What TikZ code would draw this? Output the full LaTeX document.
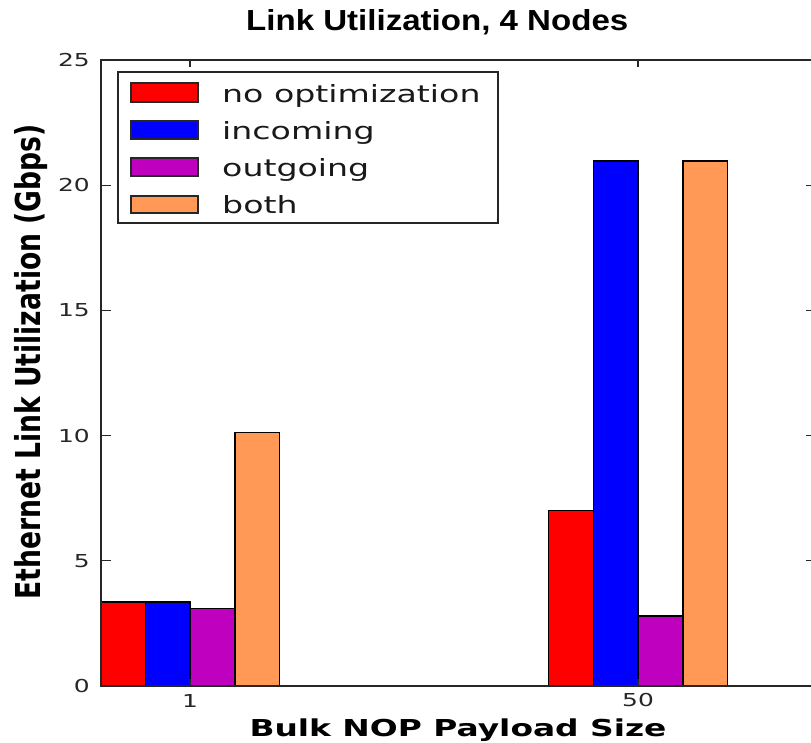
\documentclass[tikz,border=0pt]{standalone}
\usepackage{fontspec}
\setmainfont{DejaVu Sans}
\newfontfamily\titlefont{Liberation Sans}
\usepackage{graphicx}
\definecolor{cred}{HTML}{FF0000}
\definecolor{cblue}{HTML}{0000FF}
\definecolor{cmag}{HTML}{BF00BF}
\definecolor{corange}{HTML}{FF9955}
\newcommand\wide[1]{\scalebox{1.4}[1]{#1}}
\begin{document}
\begin{tikzpicture}[x=1pt,y=-1pt,
  bar/.style={draw=black,line width=1.4pt},
  spine/.style={draw=black!85,line width=1.8pt},
  tickmark/.style={draw=black!85,line width=1.2pt},
  ticklab/.style={inner sep=0pt,font=\fontsize{17.8}{20}\selectfont,text=black!85},
  legtext/.style={inner sep=0pt,anchor=base west,font=\fontsize{23.7}{26}\selectfont,text=black!90},
  swatch/.style={draw=black!85,line width=1.4pt},
]
\useasboundingbox (0,0) rectangle (811,742);
\fill[white] (0,0) rectangle (811,742);
% bars
\begin{scope}
\clip (101,60) rectangle (816,686);
\draw[bar,fill=cred]    (100.4,686) rectangle (145.2,{686-25.04*3.35});
\draw[bar,fill=cblue]   (145.2,686) rectangle (190.0,{686-25.04*3.35});
\draw[bar,fill=cmag]    (190.0,686) rectangle (234.8,{686-25.04*3.10});
\draw[bar,fill=corange] (234.8,686) rectangle (279.6,{686-25.04*10.12});
\draw[bar,fill=cred]    (548.4,686) rectangle (593.2,{686-25.04*7.00});
\draw[bar,fill=cblue]   (593.2,686) rectangle (638.0,{686-25.04*20.97});
\draw[bar,fill=cmag]    (638.0,686) rectangle (682.8,{686-25.04*2.80});
\draw[bar,fill=corange] (682.8,686) rectangle (727.6,{686-25.04*20.97});
\end{scope}
% ticks
\foreach \v in {0,5,...,25}{
  \draw[tickmark] (101,{686-25.04*\v}) -- (111,{686-25.04*\v});
  \draw[tickmark] (816,{686-25.04*\v}) -- (806,{686-25.04*\v});
  \node[ticklab,anchor=east] (yt\v) at (90,{686-25.04*\v}) {\wide{\v}};
}
\foreach \xx in {190,638}{
  \draw[tickmark] (\xx,60) -- (\xx,67);
  \draw[tickmark] (\xx,686) -- (\xx,679);
}
\node[ticklab,anchor=north] (xt1) at (190,694) {\wide{1}};
\node[ticklab,anchor=north] (xt50) at (638,693) {\wide{50}};
% spines
\draw[spine] (101,60) rectangle (816,686);
% legend
\draw[draw=black!85,line width=1.6pt,fill=white] (118,72) rectangle (498,223);
\draw[swatch,fill=cred]    (131,83)  rectangle (198,102);
\draw[swatch,fill=cblue]   (131,121) rectangle (198,139);
\draw[swatch,fill=cmag]    (131,158) rectangle (198,176);
\draw[swatch,fill=corange] (131,196) rectangle (198,213);
\node[legtext] (l1) at (222,102) {\wide{no optimization}};
\node[legtext] (l2) at (222,139) {\wide{incoming}};
\node[legtext] (l3) at (222,176) {\wide{outgoing}};
\node[legtext] (l4) at (222,213) {\wide{both}};
% labels
\node[anchor=base,inner sep=0pt,font=\bfseries\fontsize{23.3}{26}\selectfont] (xlab) at (458,736) {\scalebox{1.41}[1]{Bulk NOP Payload Size}};
\node[anchor=base,rotate=90,inner sep=0pt,font=\bfseries\fontsize{26.6}{30}\selectfont] (ylab) at (40,362) {\scalebox{1}[1.29]{Ethernet Link Utilization (Gbps)}};
\node[anchor=base west,inner sep=0pt,font=\titlefont\bfseries\fontsize{29}{32}\selectfont] (title) at (246,30.7) {\scalebox{1.14}[1]{Link Utilization, 4 Nodes}};
\end{tikzpicture}
\end{document}
